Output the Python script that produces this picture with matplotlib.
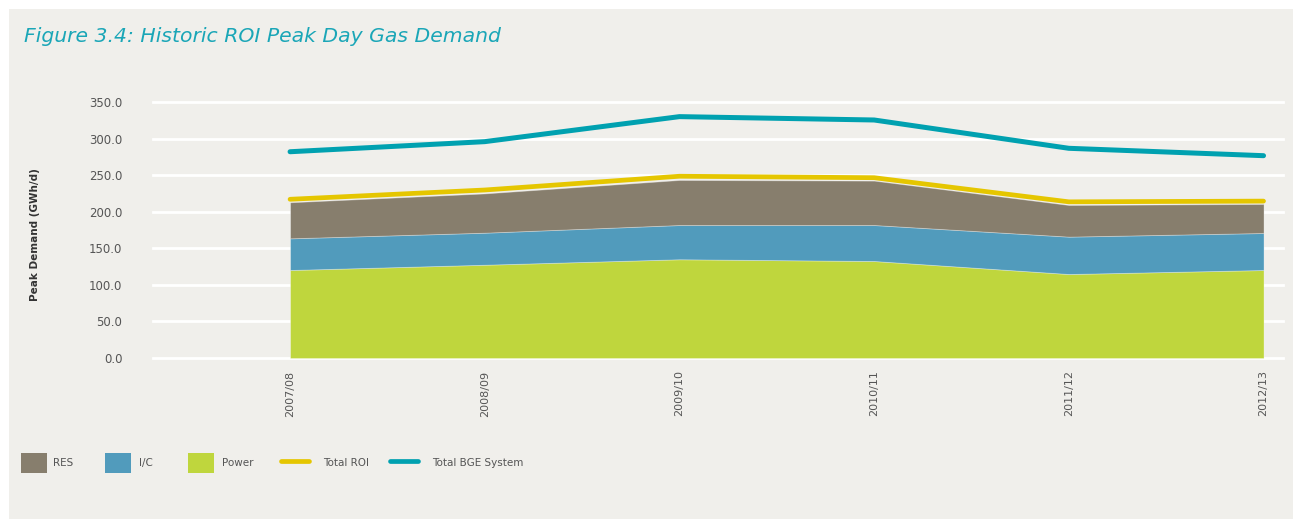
import matplotlib.pyplot as plt
from matplotlib.patches import Rectangle
from matplotlib.lines import Line2D
from matplotlib.ticker import FormatStrFormatter

# Data (GWh/d)
years = ['2007/08', '2008/09', '2009/10', '2010/11', '2011/12', '2012/13']
power = [120.3, 127.5, 135.0, 132.6, 114.8, 120.3]
ic = [43.3, 43.8, 46.8, 49.2, 51.1, 50.6]
res = [49.3, 53.7, 61.6, 60.7, 43.3, 39.7]
total_roi = [217.0, 229.7, 248.5, 246.5, 213.5, 214.5]
total_bge = [282.0, 295.8, 330.0, 325.4, 286.7, 276.6]

BG = '#f0efeb'
C_RES = '#877e6d'
C_IC = '#519bbc'
C_POWER = '#bfd63d'
C_ROI = '#e5c600'
C_BGE = '#00a1b0'
TXT = '#555555'

W, H = 1293, 519
fig = plt.figure(figsize=(W / 100, H / 100), dpi=100, facecolor='white')
# grey panel with a thin white margin at top and left
fig.add_artist(Rectangle((9 / W, 0), 1, 1 - 9 / H, transform=fig.transFigure,
                         facecolor=BG, edgecolor='none', zorder=-10))

ax = fig.add_axes([153 / W, 1 - 358 / H, (1283 - 153) / W, (358 - 102) / H])
ax.patch.set_alpha(0)

x = list(range(len(years)))

# white horizontal gridlines
for v in range(0, 351, 50):
    ax.axhline(v, color='white', linewidth=2.0, zorder=0, clip_on=False)

ax.stackplot(x, power, ic, res, colors=[C_POWER, C_IC, C_RES],
             edgecolor=(1, 1, 1, 0.35), linewidth=0.6, zorder=2)
ax.plot(x, total_roi, color=C_ROI, linewidth=3.4, solid_capstyle='round', zorder=3)
ax.plot(x, total_bge, color=C_BGE, linewidth=3.6, solid_capstyle='round', zorder=3)

ax.set_xlim(-0.704, 5.10)
ax.set_ylim(0, 350)
ax.set_yticks(range(0, 351, 50))
ax.yaxis.set_major_formatter(FormatStrFormatter('%.1f'))
ax.set_xticks(x)
ax.set_xticklabels(years, rotation=90, fontsize=8, color=TXT)
ax.tick_params(axis='y', labelsize=8.5, labelcolor=TXT, length=0, pad=22)
ax.tick_params(axis='x', length=0, pad=9)
for s in ax.spines.values():
    s.set_visible(False)

fig.text(35 / W, 1 - 235 / H, 'Peak Demand (GWh/d)', rotation=90, fontsize=7.5,
         fontweight='bold', color='#333333', ha='center', va='center')

fig.text(24 / W, 1 - 37 / H, 'Figure 3.4: Historic ROI Peak Day Gas Demand',
         fontsize=14.7, style='italic', color='#1aa6b7', ha='left', va='center')

# legend laid out by hand to match the reference spacing
leg_y = 1 - 463 / H
box_h = 20 / H
for label, color, x0, tx in [('RES', C_RES, 21, 53), ('I/C', C_IC, 105, 139),
                             ('Power', C_POWER, 188, 222)]:
    fig.add_artist(Rectangle((x0 / W, leg_y - box_h / 2), 26 / W, box_h,
                             transform=fig.transFigure, facecolor=color, edgecolor='none'))
    fig.text(tx / W, leg_y, label, fontsize=7.5, color=TXT, ha='left', va='center')
for label, color, x0, tx in [('Total ROI', C_ROI, 281, 323),
                             ('Total BGE System', C_BGE, 390, 432)]:
    fig.add_artist(Line2D([x0 / W, (x0 + 28) / W], [leg_y + 2 / H, leg_y + 2 / H],
                          transform=fig.transFigure, color=color, linewidth=3.4,
                          solid_capstyle='round'))
    fig.text(tx / W, leg_y, label, fontsize=7.5, color=TXT, ha='left', va='center')

fig.savefig('out.png', dpi=100, facecolor=fig.get_facecolor())
